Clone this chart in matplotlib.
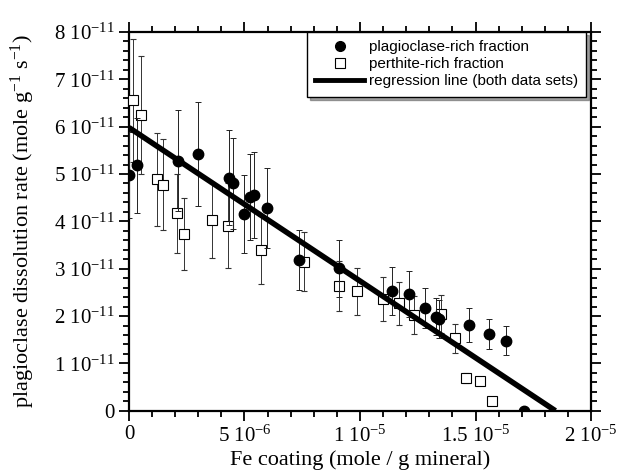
import numpy as np
import matplotlib
matplotlib.use("Agg")
import matplotlib.pyplot as plt
from matplotlib.lines import Line2D
from matplotlib.ticker import MultipleLocator

plt.rcParams['font.family'] = 'Liberation Serif'
plt.rcParams['mathtext.fontset'] = 'custom'
plt.rcParams['mathtext.rm'] = 'Liberation Serif'
plt.rcParams['mathtext.it'] = 'Liberation Serif:italic'

# plagioclase-rich fraction (x in 1e-6 mole/g, y in 1e-11 mole/g/s)
x_plag = [0.0, 0.33, 2.13, 3.0, 4.34, 4.52, 4.98, 5.24, 5.43, 5.96, 7.36, 9.09,
          11.4, 12.1, 12.8, 13.3, 13.4, 14.7, 15.6, 16.3, 17.1]
y_plag = [4.98, 5.18, 5.28, 5.42, 4.92, 4.80, 4.15, 4.51, 4.56, 4.28, 3.19, 3.01,
          2.53, 2.47, 2.17, 1.99, 1.93, 1.82, 1.62, 1.48, 0.0]
e_plag = [0.9, 1.0, 1.07, 1.1, 1.0, 0.96, 0.82, 0.91, 0.91, 0.85, 0.63, 0.6,
          0.5, 0.48, 0.43, 0.4, 0.4, 0.36, 0.32, 0.3, 0.0]

# perthite-rich fraction
x_perth = [0.16, 0.5, 1.23, 1.46, 2.06, 2.4, 3.6, 4.3, 5.70, 7.58, 9.1, 9.86,
           11.0, 11.7, 12.34, 13.5, 14.1, 14.6, 15.2, 15.7]
y_perth = [6.56, 6.24, 4.89, 4.77, 4.17, 3.73, 4.02, 3.91, 3.40, 3.15, 2.64, 2.52,
           2.36, 2.27, 2.02, 2.04, 1.53, 0.69, 0.62, 0.21]
e_perth = [1.3, 1.25, 0.98, 0.96, 0.83, 0.76, 0.8, 0.9, 0.72, 0.63, 0.53, 0.49,
           0.47, 0.45, 0.4, 0.4, 0.31, 0.1, 0.08, 0.05]

# regression line (both data sets)
intercept = 5.98e-11
slope = -3.24e-6

xp = np.array(x_plag) * 1e-6
yp = np.array(y_plag) * 1e-11
ep = np.array(e_plag) * 1e-11
xq = np.array(x_perth) * 1e-6
yq = np.array(y_perth) * 1e-11
eq = np.array(e_perth) * 1e-11

fig = plt.figure(figsize=(6.17, 4.76), dpi=100)
ax = fig.add_axes([0.209, 0.137, 0.749, 0.796])

ax.errorbar(xq, yq, yerr=eq, fmt='s', ms=7.5, mfc='white', mec='black', mew=0.8,
            ecolor='#333333', elinewidth=0.7, capsize=2.5, capthick=0.7, zorder=3)
ax.errorbar(xp, yp, yerr=ep, fmt='o', ms=7.5, mfc='black', mec='black',
            ecolor='#222222', elinewidth=0.7, capsize=2.5, capthick=0.7, zorder=4)

x_end = -intercept / slope
xl = np.array([0, x_end])
ax.plot(xl, intercept + slope * xl, color='black', lw=4, solid_capstyle='butt', zorder=5)

ax.set_xlim(0, 2e-5)
ax.set_ylim(0, 8e-11)

ax.set_xticks([0, 5e-6, 1e-5, 1.5e-5, 2e-5])
ax.set_xticklabels(['0', r'5 10$^{-6}$', r'1 10$^{-5}$', r'1.5 10$^{-5}$', r'2 10$^{-5}$'])
ax.set_yticks(np.arange(0, 9) * 1e-11)
ax.set_yticklabels(['0'] + [r'%d 10$^{-11}$' % i for i in range(1, 9)])
ax.xaxis.set_minor_locator(MultipleLocator(1e-6))
ax.yaxis.set_minor_locator(MultipleLocator(0.2e-11))

ax.tick_params(which='both', direction='out', top=True, right=True, width=1.3,
               labelsize=15)
ax.tick_params(which='major', length=7)
ax.tick_params(which='minor', length=4)
for s in ax.spines.values():
    s.set_linewidth(1.6)

ax.set_xlabel('Fe coating (mole / g mineral)', fontsize=16, labelpad=3)
ax.set_ylabel(r'plagioclase dissolution rate (mole g$^{-1}$ s$^{-1}$)', fontsize=16, labelpad=12)

handles = [
    Line2D([], [], marker='o', ls='none', color='black', ms=7),
    Line2D([], [], marker='s', ls='none', mfc='white', mec='black', mew=0.8, ms=7),
    Line2D([], [], color='black', lw=3.5),
]
labels = ['plagioclase-rich fraction', 'perthite-rich fraction',
          'regression line (both data sets)']
leg = ax.legend(handles, labels, loc='upper right', bbox_to_anchor=(0.99, 1.0),
                borderaxespad=0, fancybox=False, shadow=True, handlelength=3.2,
                prop={'family': 'Liberation Sans', 'size': 11},
                labelspacing=0.2, borderpad=0.55, handletextpad=0.3)
leg.get_frame().set_edgecolor('black')
leg.get_frame().set_linewidth(1.0)
leg.set_zorder(10)

fig.savefig('out.png', dpi=100)
